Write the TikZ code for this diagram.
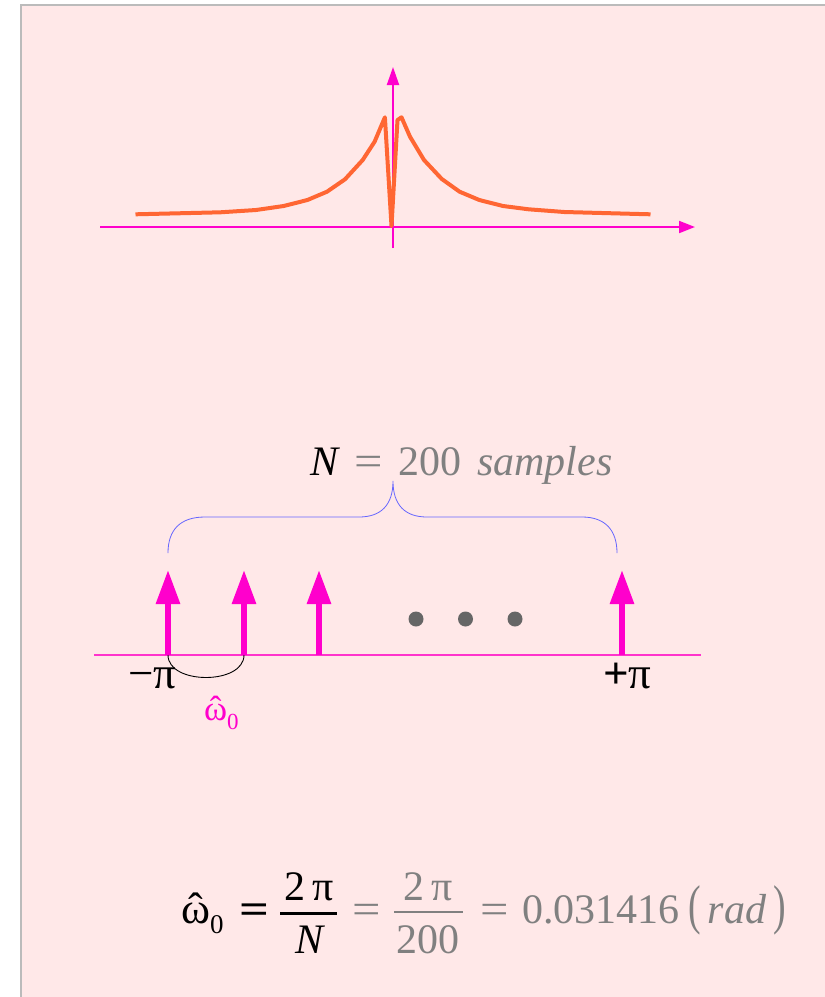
\documentclass[tikz,border=0pt]{standalone}
\usepackage{fontspec}
\setmainfont{Liberation Serif}
\usetikzlibrary{arrows.meta}
\definecolor{bgpink}{HTML}{FFE8E8}
\definecolor{edgegray}{HTML}{BBBBBB}
\definecolor{mag}{HTML}{FF00CC}
\definecolor{maglight}{HTML}{FF33CC}
\definecolor{curveor}{HTML}{FF6633}
\definecolor{txtgray}{HTML}{808080}
\definecolor{dotgray}{HTML}{666666}
\definecolor{bracebl}{HTML}{6666FF}
\newcommand\omh{\ooalign{ω\cr\hidewidth ˆ\hidewidth\cr}}
\newcommand\fsz[1]{\fontsize{#1}{#1}\selectfont}
\newcommand\wideeq{\scalebox{1.2}[1]{=}}
\tikzset{
  txt/.style={inner sep=0pt, anchor=base west, font=\fsz{42}},
  ctxt/.style={inner sep=0pt, anchor=base, font=\fsz{42}},
  axis/.style={mag, line width=2pt},
  stick/.style={mag, line width=6pt, -{Triangle[length=34pt,width=23pt]}},
  fracbar/.style={line width=3pt},
}
\begin{document}
\begin{tikzpicture}[x=1pt,y=-1pt]
\useasboundingbox (0,0) rectangle (825,997);
\fill[white] (0,0) rectangle (825,997);
\fill[bgpink] (21,5) rectangle (825,997);
\draw[edgegray, line width=1.5pt] (21,997) -- (21,5) -- (825,5);

% top plot
\coordinate (xl) at (100,227);
\coordinate (xr) at (695,227);
\coordinate (yb) at (393,248);
\coordinate (yt) at (393,67);
\draw[axis, -{Triangle[length=16pt,width=12pt]}] (xl) -- (xr);
\draw[axis, -{Triangle[length=18pt,width=12pt]}] (yb) -- (yt);
\draw[curveor, line width=4pt, line join=round] plot coordinates {
 (135.5,214.3) (220.4,212.3) (256,210) (283.7,206) (307.4,200) (327,191.7)
 (345,179.3) (362.7,160) (374.6,141.7) (384.9,117.3) (391.5,226)
 (397.5,120) (401.5,117.3) (410,136.7) (424,160) (441.8,179) (459.6,191.7)
 (479.3,200) (503,206) (528.7,209.3) (564.3,212) (650.5,214.3)};

% sample line
\coordinate (bl) at (94,655);
\coordinate (br) at (701,655);
\draw[maglight, line width=1.5pt] (bl) -- (br);
\foreach \n/\x in {s1/168, s2/244, s3/319, s4/622} {
  \coordinate (\n b) at (\x,655);
  \coordinate (\n t) at (\x,570);
  \draw[stick] (\n b) -- (\n t);
}
\foreach \n/\x in {d1/416, d2/465.5, d3/515}
  \fill[dotgray] (\x,619) circle[radius=7.5pt];

% arc between first two samples
\draw[black, line width=0.9pt] (s1b) .. controls (168,685) and (244,685) .. (s2b);

% brace
\draw[bracebl, line width=0.8pt] (168,553) .. controls (168,530) and (180,517) .. (205,517)
  -- (359,517) .. controls (381,517) and (393,505) .. (393,481)
  .. controls (393,505) and (405,517) .. (427,517)
  -- (582,517) .. controls (605,517) and (617,530) .. (617,553);

% N = 200 samples
\node[txt] (nN) at (310,475) {\itshape N};
\node[txt, txtgray] (nEq) at (354,475) {\wideeq};
\node[txt, txtgray] (n200) at (398,475) {200};
\node[txt, txtgray] (nSam) at (477,475) {\itshape samples};

% tick labels
\node[txt, font=\fsz{45}] (mpi) at (128,688) {−π};
\node[txt, font=\fsz{45}] (ppi) at (603,688) {\textbf{+}π};
\node[txt, mag, font=\fsz{35}] (wlab) at (204,720) {\omh\raisebox{-9pt}{\fsz{23}0}};

% formula
\node[txt, font=\fsz{44}] (w0) at (181,923) {\omh\raisebox{-10pt}{\fsz{27}0}};
\node[txt] (eq1) at (239,923) {\bfseries\scalebox{1.25}[1]{=}};
\node[ctxt] (f1n) at (309,900) {2\,π};
\node[ctxt] (f1d) at (310,953) {\itshape N};
\draw[fracbar] (280,913) -- (337,913);
\node[txt, txtgray] (eq2) at (352,923) {\wideeq};
\node[ctxt, txtgray] (f2n) at (428,900) {2\,π};
\node[ctxt, txtgray] (f2d) at (428,953) {200};
\draw[fracbar, txtgray, line width=2.5pt] (394,912) -- (463,912);
\node[txt, txtgray] (eq3) at (480,923) {\wideeq};
\node[txt, txtgray] (val) at (522,923) {0.031416};
\node[txt, txtgray] (unit) at (688,923) {\scalebox{0.9}[1.3]{(}\,\textit{rad}\,\scalebox{0.9}[1.3]{)}};
\end{tikzpicture}
\end{document}
